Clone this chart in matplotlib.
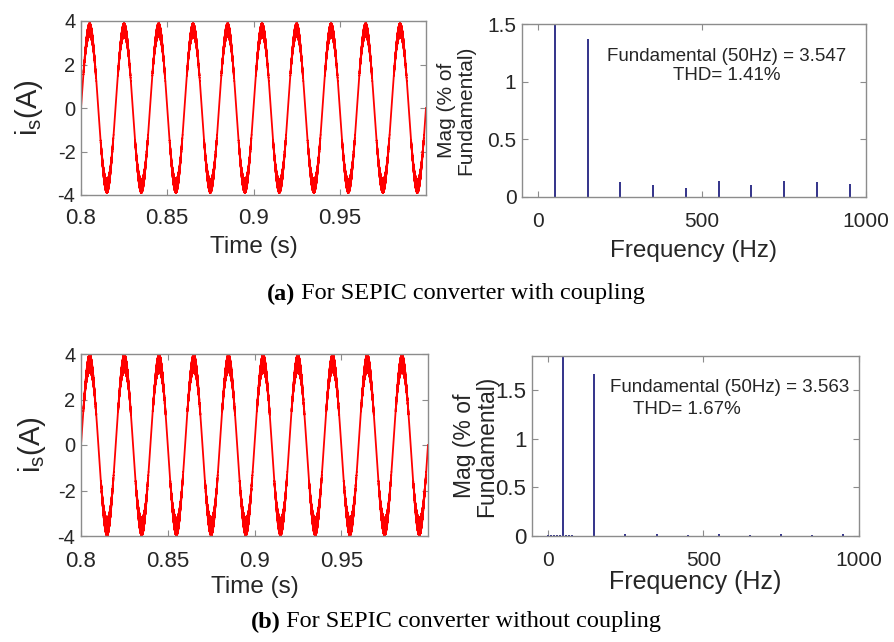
import numpy as np
import matplotlib
matplotlib.use("Agg")
import matplotlib.pyplot as plt

# ---- data ----
t_start, t_end = 0.8, 1.0
line_freq = 50.0          # Hz
amp_a, ripple_a = 3.6, 0.30   # (a) with coupling
amp_b, ripple_b = 3.6, 0.38   # (b) without coupling
sw_freq = 20000.0

harm_freqs_a = [50, 150, 250, 350, 450, 550, 650, 750, 850, 950]
harm_mags_a = [100.0, 1.37, 0.13, 0.10, 0.08, 0.14, 0.10, 0.14, 0.13, 0.11]
harm_freqs_b = [0, 10, 20, 30, 40, 50, 60, 70, 80, 150, 250, 350, 450, 550, 650, 750, 850, 950]
harm_mags_b = [0.015, 0.015, 0.015, 0.015, 0.015, 100.0, 0.015, 0.015, 0.015, 1.67,
               0.02, 0.02, 0.015, 0.02, 0.015, 0.02, 0.015, 0.02]

time_ticks = [0.8, 0.85, 0.9, 0.95]
time_ticklabels = ["0.8", "0.85", "0.9", "0.95"]
cur_ticks = [-4, -2, 0, 2, 4]
freq_ticks = [0, 500, 1000]
mag_ticks = [0, 0.5, 1, 1.5]
mag_ticklabels = ["0", "0.5", "1", "1.5"]

text_a = "Fundamental (50Hz) = 3.547\nTHD= 1.41%"
text_b1 = "Fundamental (50Hz) = 3.563"
text_b2 = "THD= 1.67%"
caption_a = ("(a)", " For SEPIC converter with coupling")
caption_b = ("(b)", " For SEPIC converter without coupling")

plt.rcParams['font.family'] = ['Liberation Sans', 'DejaVu Sans']
plt.rcParams['mathtext.fontset'] = 'custom'
plt.rcParams['mathtext.rm'] = 'Liberation Sans'

W, H = 895, 642
fig = plt.figure(figsize=(W / 100, H / 100), dpi=100)

def ax_at(l, t, r, b):
    return fig.add_axes([l / W, 1 - b / H, (r - l) / W, (b - t) / H])

t = np.linspace(t_start, t_end, 80001)

def wave(a, r):
    s = np.sin(2 * np.pi * line_freq * (t - t_start))
    return a * s + r * s ** 3 * np.cos(2 * np.pi * sw_freq * t)

txt_col = "#262626"

def style(ax):
    for sp in ax.spines.values():
        sp.set_color("#8c8c8c")
        sp.set_linewidth(1.0)
    ax.tick_params(direction="in", top=True, right=True, colors="#8c8c8c",
                   labelcolor=txt_col, length=4)

def time_axes(ax, a, r, xpad, lpad):
    ax.plot(t, wave(a, r), color="#ff0000", lw=1.3)
    ax.set_xlim(t_start, t_end)
    ax.set_ylim(-4, 4)
    ax.set_xticks(time_ticks)
    ax.set_xticklabels(time_ticklabels, fontsize=16)
    ax.set_yticks(cur_ticks)
    ax.set_yticklabels([str(v) for v in cur_ticks], fontsize=14.5)
    ax.set_xlabel("Time (s)", fontsize=17.5, color=txt_col, labelpad=lpad)
    ax.set_ylabel(r"i$_\mathregular{s}$(A)", fontsize=21, color=txt_col)
    style(ax)
    ax.tick_params(axis="x", pad=xpad)
    ax.tick_params(axis="y", pad=4)

def freq_axes(ax, f, m, ylim, fs_y, fs_xl, xpad, lpad):
    ax.vlines(f, 0, m, color="#33338a", lw=1.4)
    ax.set_xlim(-50, 1000)
    ax.set_ylim(0, ylim)
    ax.set_xticks(freq_ticks)
    ax.set_xticklabels([str(v) for v in freq_ticks], fontsize=15)
    ax.set_yticks(mag_ticks)
    ax.set_yticklabels(mag_ticklabels, fontsize=fs_y)
    ax.set_xlabel("Frequency (Hz)", fontsize=fs_xl, color=txt_col, labelpad=lpad)
    style(ax)
    ax.tick_params(axis="x", pad=xpad)
    ax.tick_params(axis="y", pad=4)

# (a)
ax1 = ax_at(81, 21, 426, 195)
time_axes(ax1, amp_a, ripple_a, 9, 5.5)
ax1.yaxis.set_label_coords(-0.105, 0.5)

ax2 = ax_at(522, 24, 866, 197)
freq_axes(ax2, harm_freqs_a, harm_mags_a, 1.5, 15, 17.5, 11, 6)
ax2.set_ylabel("Mag (% of\nFundamental)", fontsize=15, color=txt_col,
               linespacing=1.0)
ax2.yaxis.set_label_coords(-0.137, 0.5)
ax2.text(0.595, 0.755, text_a, transform=ax2.transAxes, ha="center", va="center",
         fontsize=13.5, color=txt_col, linespacing=1.15)

# (b)
ax3 = ax_at(81, 354, 428, 536)
time_axes(ax3, amp_b, ripple_b, 11, 2.5)
ax3.yaxis.set_label_coords(-0.095, 0.5)

ax4 = ax_at(532, 356, 859, 536)
freq_axes(ax4, harm_freqs_b, harm_mags_b, 1.85, 16, 18, 11, 0)
ax4.set_ylabel("Mag (% of\nFundamental)", fontsize=16.5, color=txt_col,
               linespacing=0.95)
ax4.yaxis.set_label_coords(-0.105, 0.5)
ax4.text(0.24, 0.825, text_b1, transform=ax4.transAxes, ha="left", va="center",
         fontsize=13.5, color=txt_col)
ax4.text(0.31, 0.70, text_b2, transform=ax4.transAxes, ha="left", va="center",
         fontsize=13.5, color=txt_col)

def caption(y, parts, xc=456 / W, fs=17.5):
    bold, rest = parts
    fig.canvas.draw()
    r = fig.canvas.get_renderer()
    t1 = fig.text(0, y, bold, ha="left", va="center", fontsize=fs,
                  family="Liberation Serif", weight="bold")
    t2 = fig.text(0, y, rest, ha="left", va="center", fontsize=fs,
                  family="Liberation Serif")
    w1 = t1.get_window_extent(r).width
    w2 = t2.get_window_extent(r).width
    x0 = xc * W - (w1 + w2) / 2
    t1.set_x(x0 / W)
    t2.set_x((x0 + w1) / W)

caption(1 - 294 / H, caption_a)
caption(1 - 622 / H, caption_b)

fig.savefig("out.png", dpi=100)
